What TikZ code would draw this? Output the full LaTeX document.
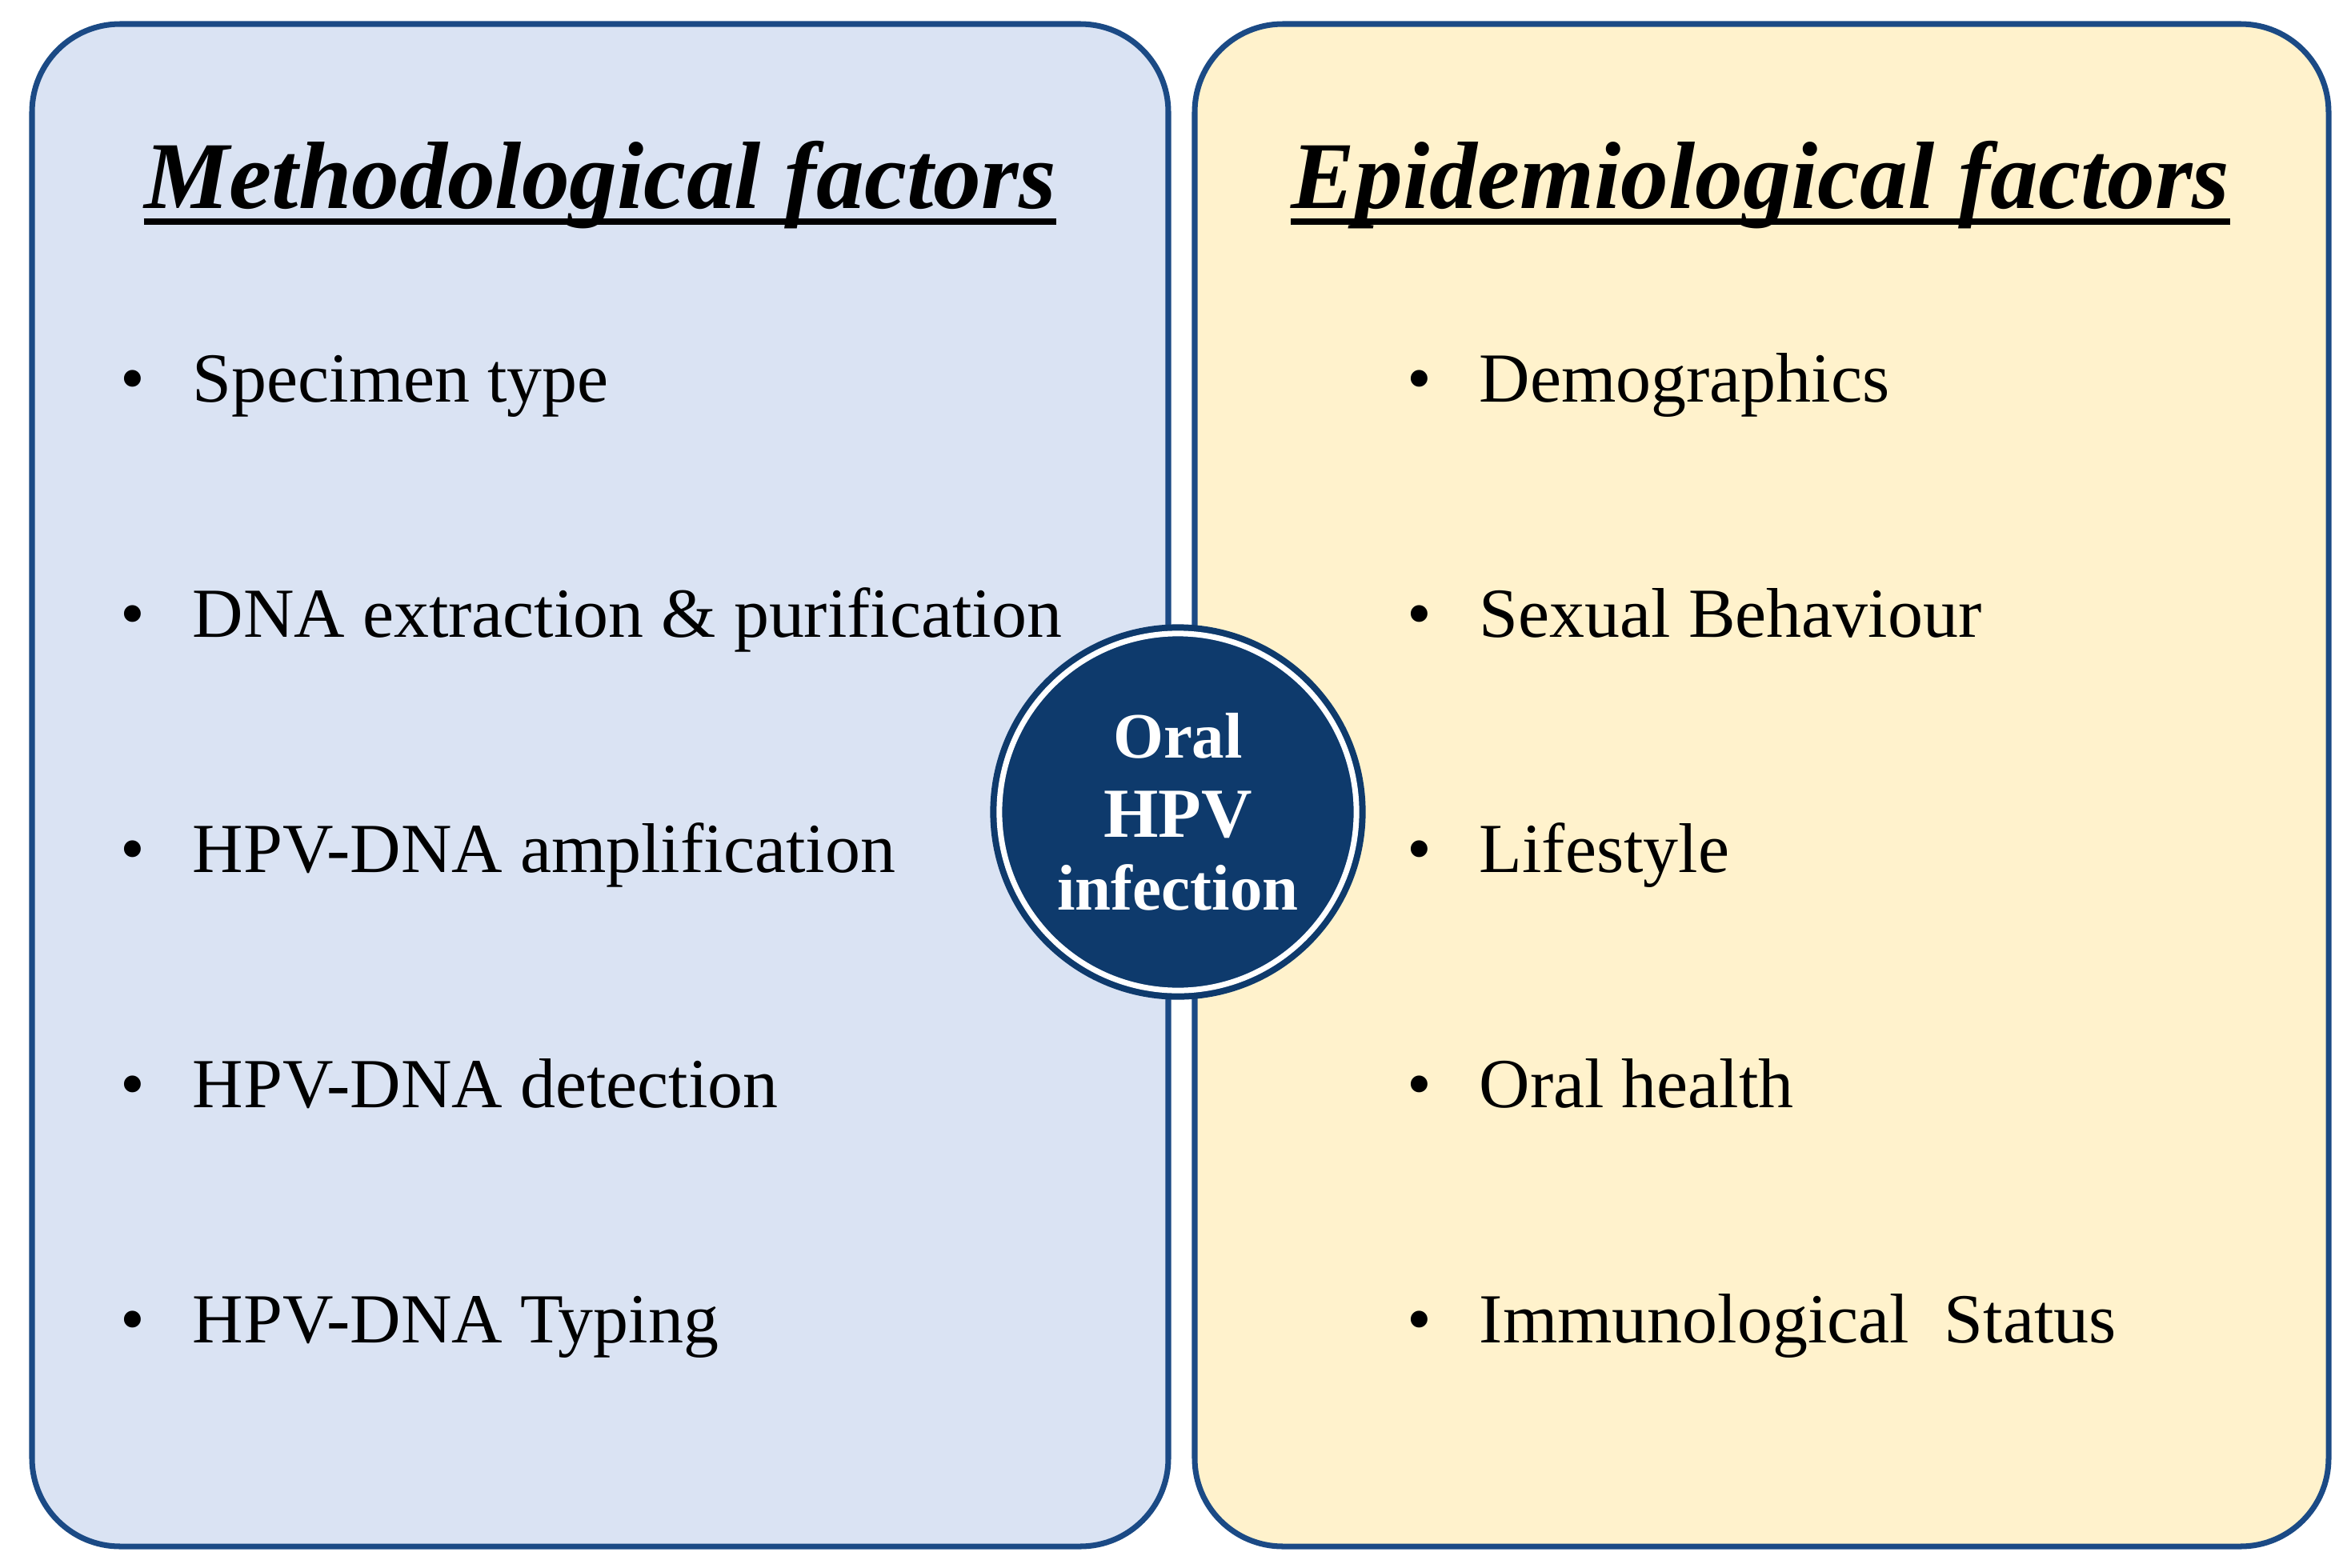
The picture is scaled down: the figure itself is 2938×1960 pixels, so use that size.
\documentclass[tikz,border=0pt]{standalone}
\usepackage{fontspec}
\setmainfont{Liberation Serif}
\usetikzlibrary{positioning}
\definecolor{Navy}{HTML}{0E3A6C}
\definecolor{Edge}{HTML}{1B4A85}
\definecolor{SoftBlue}{HTML}{DAE3F3}
\definecolor{SoftGold}{HTML}{FFF2CC}
\newcommand{\bul}{\makebox[0.9cm][l]{\fontsize{25}{25}\selectfont\textbullet}}

\begin{document}
\begin{tikzpicture}[
  x=0.01cm,y=-0.01cm,
  panel/.style={rounded corners=1.1cm,draw=Edge,line width=2pt},
  head/.style={font=\fontsize{34}{40}\selectfont\bfseries\itshape,inner sep=0pt,anchor=base},
  item/.style={font=\fontsize{25}{30}\selectfont,inner sep=0pt,anchor=base west},
  hub/.style={circle,fill=Navy,draw=Navy,line width=0.08cm,double=white,double distance=0.07cm,minimum size=4.46cm,inner sep=0pt,align=center,text=white,font=\bfseries\fontsize{23}{28}\selectfont},
  uline/.style={line width=2pt}
]
\fill[white] (0,0) rectangle (2938,1960);
\draw[panel,fill=SoftBlue] (40,30) rectangle (1460,1933);
\draw[panel,fill=SoftGold] (1493,30) rectangle (2910,1933);
% left column
\node[head] (tm) at (750,260) {Methodological factors};
\draw[uline] ([yshift=-0.17cm]tm.base west) -- ([yshift=-0.17cm]tm.base east);
\node[item] (m1) at (150,502) {\bul Specimen type};
\node[item,below=2.94cm of m1.base west,anchor=base west] (m2) {\bul DNA extraction \& purification};
\node[item,below=2.94cm of m2.base west,anchor=base west] (m3) {\bul HPV-DNA amplification};
\node[item,below=2.94cm of m3.base west,anchor=base west] (m4) {\bul HPV-DNA detection};
\node[item,below=2.94cm of m4.base west,anchor=base west] (m5) {\bul HPV-DNA Typing};
% right column
\node[head] (te) at (2200,260) {Epidemiological factors};
\draw[uline] ([yshift=-0.17cm]te.base west) -- ([yshift=-0.17cm]te.base east);
\node[item] (e1) at (1758,502) {\bul Demographics};
\node[item,below=2.94cm of e1.base west,anchor=base west] (e2) {\bul Sexual Behaviour};
\node[item,below=2.94cm of e2.base west,anchor=base west] (e3) {\bul Lifestyle};
\node[item,below=2.94cm of e3.base west,anchor=base west] (e4) {\bul Oral health};
\node[item,below=2.94cm of e4.base west,anchor=base west] (e5) {\bul Immunological\ \ Status};
% centre
\node[hub] (hpv) at (1472,1015) {Oral\\{\fontsize{25}{28}\selectfont HPV}\\[-2pt]infection};
\end{tikzpicture}
\end{document}
